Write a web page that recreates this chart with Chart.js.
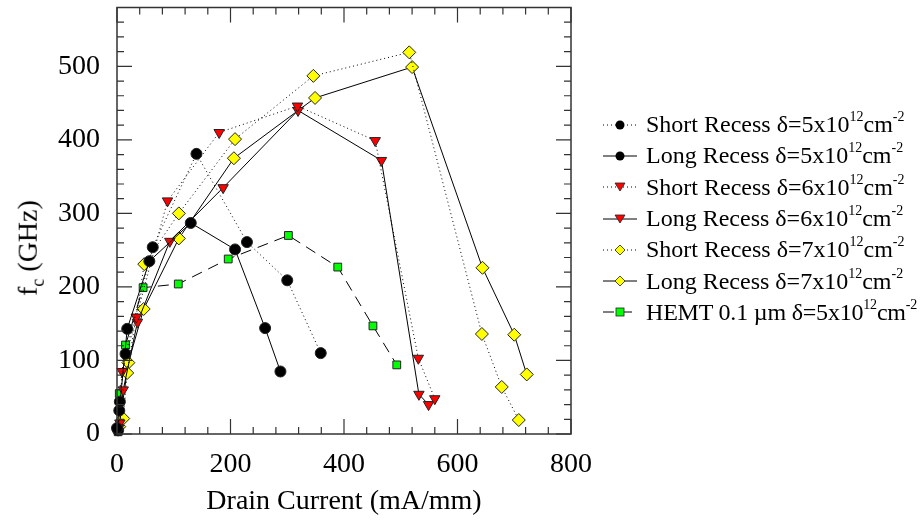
<!DOCTYPE html>
<html>
<head>
<meta charset="utf-8">
<script src="https://cdn.jsdelivr.net/npm/chart.js@4.4.0/dist/chart.umd.min.js"></script>
<style>
    body { margin: 0; background: #fff; }
    #wrap { position: relative; width: 920px; height: 522px; }
    #ylab {
        position: absolute; left: 30px; top: 248px;
        transform: translate(-50%, -50%) rotate(-90deg);
        font: 28px "Liberation Serif", serif; white-space: nowrap;
    }
    #legend { position: absolute; left: 600px; top: 109px; font: 24px "Liberation Serif", serif; }
    .row { height: 31.3px; display: flex; align-items: center; white-space: nowrap; }
    .row svg { margin-right: 6px; }
    .row:last-child span { letter-spacing: -0.2px; }
    sup { font-size: 14px; position: relative; top: -2px; }
    sub { font-size: 18px; }
</style>
</head>
<body>
<div id="wrap">
    <canvas id="chart" width="920" height="522"></canvas>
    <div id="ylab">f<sub>c</sub> (GHz)</div>
    <div id="legend"></div>
</div>
<script>
// Dữ liệu: dòng máng (mA/mm) và f_c (GHz)
const shortR5_I = [0, 5, 15, 63, 140, 229, 300, 359];
const shortR5_f = [8, 44, 109, 254, 381, 261, 209, 110];
const longR5_I = [2, 4, 18, 57, 130, 208, 261, 288];
const longR5_f = [5, 32, 143, 235, 287, 251, 144, 85];

const shortR6_I = [3, 9, 34, 89, 180, 318, 455, 531, 560];
const shortR6_f = [8, 85, 159, 317, 410, 446, 399, 103, 48];
const longR6_I = [5, 11, 36, 93, 187, 319, 466, 532, 549];
const longR6_f = [15, 60, 152, 262, 335, 440, 372, 54, 40];

const shortR7_I = [11, 18, 48, 109, 208, 346, 515, 643, 678, 708];
const shortR7_f = [21, 83, 231, 300, 401, 487, 519, 136, 64, 19];
const longR7_I = [4, 20, 47, 109, 206, 349, 520, 644, 700, 722];
const longR7_f = [10, 97, 170, 266, 375, 457, 499, 226, 135, 81];

const hemt_I = [2, 4, 15, 46, 108, 196, 302, 389, 451, 493];
const hemt_f = [3, 55, 121, 199, 204, 238, 270, 227, 147, 94];

// Nhãn trục
const xTicks = [0, 200, 400, 600, 800];
const yTicks = [0, 100, 200, 300, 400, 500];
const xMinorStep = 40;
const yMinorStep = 20;

const seriesNames = [
    ['Short Recess', '5'], ['Long Recess', '5'],
    ['Short Recess', '6'], ['Long Recess', '6'],
    ['Short Recess', '7'], ['Long Recess', '7'],
    ['HEMT 0.1 \u00b5m', '5']
];

function pts(xs, ys) {
    return xs.map((x, i) => ({x: x, y: ys[i]}));
}

const DOT = [1, 3];
const DASH = [11, 7];

function makeSet(label, xs, ys, dash, style, fill, radius, rot) {
    return {
        label: label,
        data: pts(xs, ys),
        borderColor: '#000',
        borderWidth: 1,
        borderDash: dash,
        pointStyle: style,
        pointRotation: rot || 0,
        pointRadius: radius,
        pointBackgroundColor: fill,
        pointBorderColor: '#222',
        pointBorderWidth: 1,
        showLine: true,
        fill: false,
        clip: false
    };
}

const datasets = [
    makeSet(seriesNames[0].join(' '), shortR5_I, shortR5_f, DOT, 'circle', '#000', 5.5),
    makeSet(seriesNames[1].join(' '), longR5_I, longR5_f, [], 'circle', '#000', 5.5),
    makeSet(seriesNames[2].join(' '), shortR6_I, shortR6_f, DOT, 'triangle', '#ff0000', 6, 180),
    makeSet(seriesNames[3].join(' '), longR6_I, longR6_f, [], 'triangle', '#ff0000', 6, 180),
    makeSet(seriesNames[4].join(' '), shortR7_I, shortR7_f, DOT, 'rectRot', '#ffff00', 6.5),
    makeSet(seriesNames[5].join(' '), longR7_I, longR7_f, [], 'rectRot', '#ffff00', 6.5),
    makeSet(seriesNames[6].join(' '), hemt_I, hemt_f, DASH, 'rect', '#00ff00', 5.5)
];

// Khung và vạch chia hướng vào trong ở cả bốn cạnh
const frameTicks = {
    id: 'frameTicks',
    afterDatasetsDraw(chart) {
        const {ctx, chartArea: a, scales: {x, y}} = chart;
        ctx.save();
        ctx.strokeStyle = '#333';
        ctx.lineWidth = 1.5;
        ctx.strokeRect(a.left, a.top, a.right - a.left, a.bottom - a.top);
        ctx.lineWidth = 1.2;
        ctx.beginPath();
        for (let v = x.min; v <= x.max; v += xMinorStep) {
            const px = x.getPixelForValue(v);
            const len = xTicks.includes(v) ? 15 : 7;
            ctx.moveTo(px, a.bottom); ctx.lineTo(px, a.bottom - len);
            ctx.moveTo(px, a.top); ctx.lineTo(px, a.top + len);
        }
        for (let v = y.min; v <= y.max; v += yMinorStep) {
            const py = y.getPixelForValue(v);
            const len = yTicks.includes(v) ? 15 : 7;
            ctx.moveTo(a.left, py); ctx.lineTo(a.left + len, py);
            ctx.moveTo(a.right, py); ctx.lineTo(a.right - len, py);
        }
        ctx.stroke();
        ctx.restore();
    }
};

const tickFont = {family: 'Liberation Serif', size: 28};

new Chart(document.getElementById('chart').getContext('2d'), {
    type: 'scatter',
    data: {datasets: datasets},
    options: {
        responsive: false,
        animation: false,
        layout: {padding: {left: 0, top: 7, right: 349, bottom: 0}},
        plugins: {legend: {display: false}, tooltip: {enabled: false}},
        scales: {
            x: {
                type: 'linear', min: 0, max: 800,
                grid: {display: false}, border: {display: false},
                afterBuildTicks: s => { s.ticks = xTicks.map(v => ({value: v})); },
                afterFit: s => { s.height = 88; s.paddingLeft = 0; s.paddingRight = 0; },
                ticks: {font: tickFont, color: '#000', padding: 6, maxRotation: 0},
                title: {display: true, text: 'Drain Current (mA/mm)', color: '#000',
                    font: {family: 'Liberation Serif', size: 28}, padding: {top: 0, bottom: 4}}
            },
            y: {
                type: 'linear', min: 0, max: 580,
                grid: {display: false}, border: {display: false},
                afterBuildTicks: s => { s.ticks = yTicks.map(v => ({value: v})); },
                afterFit: s => { s.width = 117; s.paddingTop = 0; s.paddingBottom = 0; },
                ticks: {font: tickFont, color: '#000', padding: 9}
            }
        }
    },
    plugins: [frameTicks]
});

// Chú thích dạng HTML để có chỉ số trên
function markerSvg(ds) {
    const dash = ds.borderDash.length ? `stroke-dasharray="${ds.borderDash.join(' ')}"` : '';
    const c = 20, m = 12;
    let mark = '';
    if (ds.pointStyle === 'circle') mark = `<circle cx="${c}" cy="${m}" r="4.5" fill="#000"/>`;
    if (ds.pointStyle === 'triangle') mark = `<polygon points="${c - 5},${m - 4} ${c + 5},${m - 4} ${c},${m + 4}" fill="#ff0000" stroke="#222" stroke-width="0.8"/>`;
    if (ds.pointStyle === 'rectRot') mark = `<polygon points="${c},${m - 5} ${c + 5},${m} ${c},${m + 5} ${c - 5},${m}" fill="#ffff00" stroke="#222" stroke-width="0.8"/>`;
    if (ds.pointStyle === 'rect') mark = `<rect x="${c - 4}" y="${m - 4}" width="8" height="8" fill="#00ff00" stroke="#222" stroke-width="0.8"/>`;
    return `<svg width="40" height="24"><line x1="3" y1="${m}" x2="37" y2="${m}" stroke="#000" stroke-width="1" ${dash}/>${mark}</svg>`;
}

const legend = document.getElementById('legend');
datasets.forEach((ds, i) => {
    const row = document.createElement('div');
    row.className = 'row';
    row.innerHTML = markerSvg(ds) +
        `<span>${seriesNames[i][0]} \u03b4=${seriesNames[i][1]}x10<sup>12</sup>cm<sup>-2</sup></span>`;
    legend.appendChild(row);
});
</script>
</body>
</html>
